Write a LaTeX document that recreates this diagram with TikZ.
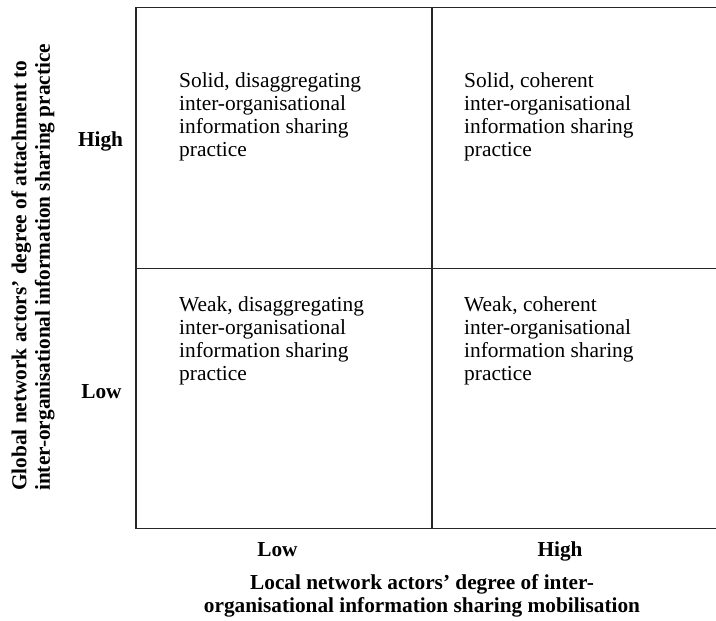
\documentclass[tikz,border=0pt]{standalone}
\usepackage{fontspec}
\setmainfont{Liberation Serif}
\begin{document}
\begin{tikzpicture}[x=1pt,y=-1pt,
  gridline/.style={line width=1.8pt, draw=black!85, line join=miter},
  cell/.style={anchor=north west, inner sep=0pt, align=left,
    font=\fontsize{21.4}{23}\selectfont},
  level/.style={anchor=base, inner sep=0pt,
    font=\fontsize{21.3}{23}\selectfont\bfseries},
  axistitle/.style={inner sep=0pt, font=\fontsize{21.3}{23.4}\selectfont\bfseries}]
\useasboundingbox (0,0) rectangle (716,621);

% grid corners and midpoints
\coordinate (tl) at (135.7,7.5);
\coordinate (tr) at (716,7.5);
\coordinate (bl) at (135.7,528.5);
\coordinate (br) at (716,528.5);
\coordinate (tm) at (431.7,7.5);
\coordinate (bm) at (431.7,528.5);
\coordinate (ml) at (135.7,268.5);
\coordinate (mr) at (716,268.5);

\draw[gridline] (tr) -- (tl) -- (bl) -- (br);
\draw[gridline] (tm) -- (bm);
\draw[gridline] (ml) -- (mr);

% quadrant contents
\node[cell] (q11) at (179,72.5) {Solid, disaggregating\\inter-organisational\\information sharing\\practice};
\node[cell] (q12) at (464,72.5) {Solid, coherent\\inter-organisational\\information sharing\\practice};
\node[cell] (q21) at (179,296.5) {Weak, disaggregating\\inter-organisational\\information sharing\\practice};
\node[cell] (q22) at (464,296.5) {Weak, coherent\\inter-organisational\\information sharing\\practice};

% level labels
\node[level] (yhigh) at (100.5,146.5) {High};
\node[level] (ylow) at (101.5,398) {Low};
\node[level] (xlow) at (277.5,556) {Low};
\node[level] (xhigh) at (560,556) {High};

% axis titles
\node[axistitle, anchor=north, align=center] (xaxis) at (422,574) {Local network actors’ degree of inter-\\organisational information sharing mobilisation};
\node[axistitle, rotate=90, anchor=south west] (yaxis) at (57,491)
  {\begin{tabular}{@{}l@{}}Global network actors’ degree of attachment to\\inter-organisational information sharing practice\end{tabular}};
\end{tikzpicture}
\end{document}
